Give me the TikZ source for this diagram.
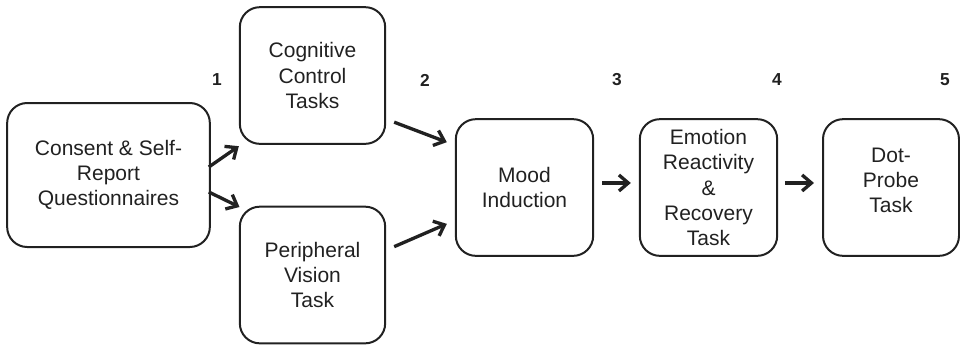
\documentclass[tikz,border=0pt]{standalone}
\usepackage{fontspec}
\setmainfont{Liberation Sans}
\usetikzlibrary{arrows.meta}

\begin{document}
\begin{tikzpicture}[x=0.75pt,y=-0.75pt]
  \tikzstyle{every node}=[text=black!87]
  \tikzstyle{stage}=[draw=black!87,line width=1.5pt,rounded corners=15pt,align=center,inner sep=0pt,minimum height=102.5pt,font=\fontsize{15.75}{19}\selectfont]
  \tikzstyle{flow}=[draw=black!87,line width=2.5pt,-{Straight Barb[length=7pt,width=12pt]}]
  \tikzstyle{num}=[font=\fontsize{13}{15}\selectfont\bfseries]

  \useasboundingbox (0,0) rectangle (960,344);

  % Define the stages
  \node[stage,minimum width=152pt,minimum height=108pt] (cons) at (108.5,175) {Consent \& Self-\\Report\\Questionnaires};
  \node[stage,minimum width=109pt] (cog) at (312.5,75.5) {Cognitive\\Control\\Tasks};
  \node[stage,minimum width=109pt] (peri) at (312.5,275) {Peripheral\\Vision\\Task};
  \node[stage,minimum width=103pt] (mood) at (524.5,187.5) {Mood\\Induction};
  \node[stage,minimum width=103pt] (emo) at (708.5,187.5) {Emotion\\Reactivity\\\&\\Recovery\\Task};
  \node[stage,minimum width=102pt,text height=38pt] (dot) at (891,187.5) {Dot-\\Probe\\Task};

  % Define the step numbers
  \foreach \n/\x in {1/217, 2/425, 3/617, 4/777, 5/945} {
    \node[num] (n\n) at (\x,80) {\n};
  }

  % Draw the arrows between stages
  \draw[flow] ([xshift=-1.5pt,yshift=6pt]cons.east) -- ([shift={(0pt,-1pt)}]cog.south west);
  \draw[flow] ([xshift=-1.5pt,yshift=-12.75pt]cons.east) -- ([shift={(0.5pt,-1pt)}]peri.north west);
  \draw[flow] ([xshift=6pt,yshift=17pt]cog.south east) -- ([xshift=-6pt,yshift=-18pt]mood.north west);
  \draw[flow] ([xshift=6pt,yshift=-30.75pt]peri.north east) -- ([xshift=-6pt,yshift=24.75pt]mood.south west);
  \draw[flow] ([xshift=6pt,yshift=3.4pt]mood.east) -- ([xshift=-6pt,yshift=3.4pt]emo.west);
  \draw[flow] ([xshift=5pt,yshift=3.4pt]emo.east) -- ([xshift=-6pt,yshift=3.4pt]dot.west);
\end{tikzpicture}
\end{document}
